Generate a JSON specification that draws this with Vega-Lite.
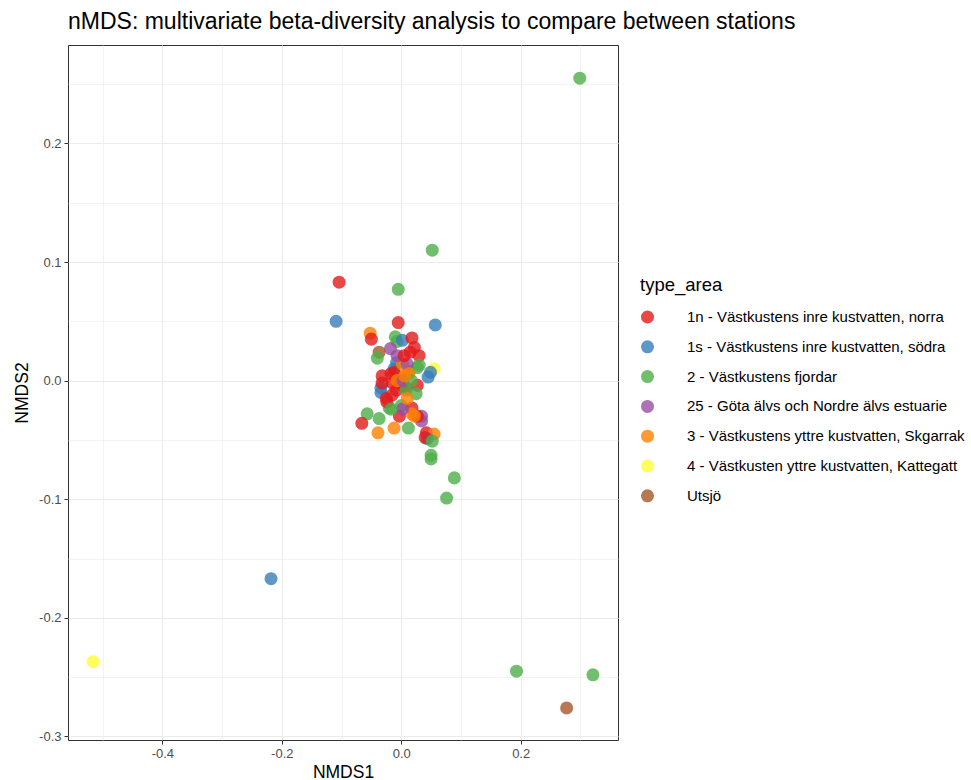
{
  "$schema": "https://vega.github.io/schema/vega-lite/v6.json",
  "autosize": {"type": "none"},
  "width": 550,
  "height": 695,
  "padding": {"left": 68, "top": 45, "right": 353, "bottom": 40},
  "background": "white",
  "title": {"text": "nMDS: multivariate beta-diversity analysis to compare between stations", "anchor": "start", "frame": "group", "font": "Liberation Sans", "fontSize": 23, "fontWeight": "normal", "color": "black", "offset": 11},
  "config": {
    "view": {"stroke": "#333333", "strokeWidth": 1},
    "font": "Liberation Sans"
  },
  "datasets": {
    "pts": [
      {"x": 0.299, "y": 0.255, "type_area": "2 - Västkustens fjordar"},
      {"x": 0.052, "y": 0.110, "type_area": "2 - Västkustens fjordar"},
      {"x": -0.104, "y": 0.083, "type_area": "1n - Västkustens inre kustvatten, norra"},
      {"x": -0.109, "y": 0.050, "type_area": "1s - Västkustens inre kustvatten, södra"},
      {"x": -0.005, "y": 0.077, "type_area": "2 - Västkustens fjordar"},
      {"x": 0.057, "y": 0.047, "type_area": "1s - Västkustens inre kustvatten, södra"},
      {"x": -0.218, "y": -0.167, "type_area": "1s - Västkustens inre kustvatten, södra"},
      {"x": -0.516, "y": -0.237, "type_area": "4 - Västkusten yttre kustvatten, Kattegatt"},
      {"x": 0.193, "y": -0.245, "type_area": "2 - Västkustens fjordar"},
      {"x": 0.321, "y": -0.248, "type_area": "2 - Västkustens fjordar"},
      {"x": 0.277, "y": -0.276, "type_area": "Utsjö"},
      {"x": -0.052, "y": 0.040, "type_area": "3 - Västkustens yttre kustvatten, Skgarrak"},
      {"x": -0.050, "y": 0.035, "type_area": "1n - Västkustens inre kustvatten, norra"},
      {"x": -0.005, "y": 0.049, "type_area": "1n - Västkustens inre kustvatten, norra"},
      {"x": -0.010, "y": 0.037, "type_area": "2 - Västkustens fjordar"},
      {"x": -0.007, "y": 0.033, "type_area": "2 - Västkustens fjordar"},
      {"x": 0.002, "y": 0.034, "type_area": "1s - Västkustens inre kustvatten, södra"},
      {"x": 0.018, "y": 0.036, "type_area": "1n - Västkustens inre kustvatten, norra"},
      {"x": 0.022, "y": 0.028, "type_area": "1n - Västkustens inre kustvatten, norra"},
      {"x": 0.030, "y": 0.021, "type_area": "1n - Västkustens inre kustvatten, norra"},
      {"x": 0.015, "y": 0.024, "type_area": "1n - Västkustens inre kustvatten, norra"},
      {"x": -0.018, "y": 0.027, "type_area": "25 - Göta älvs och Nordre älvs estuarie"},
      {"x": -0.037, "y": 0.024, "type_area": "Utsjö"},
      {"x": -0.040, "y": 0.019, "type_area": "2 - Västkustens fjordar"},
      {"x": 0.055, "y": 0.010, "type_area": "4 - Västkusten yttre kustvatten, Kattegatt"},
      {"x": 0.045, "y": 0.003, "type_area": "1s - Västkustens inre kustvatten, södra"},
      {"x": 0.049, "y": 0.007, "type_area": "1s - Västkustens inre kustvatten, södra"},
      {"x": 0.027, "y": 0.011, "type_area": "2 - Västkustens fjordar"},
      {"x": 0.013, "y": 0.008, "type_area": "2 - Västkustens fjordar"},
      {"x": -0.008, "y": 0.015, "type_area": "1s - Västkustens inre kustvatten, södra"},
      {"x": -0.012, "y": 0.010, "type_area": "1s - Västkustens inre kustvatten, södra"},
      {"x": -0.032, "y": 0.004, "type_area": "1n - Västkustens inre kustvatten, norra"},
      {"x": -0.017, "y": 0.006, "type_area": "1n - Västkustens inre kustvatten, norra"},
      {"x": 0.000, "y": 0.003, "type_area": "3 - Västkustens yttre kustvatten, Skgarrak"},
      {"x": -0.003, "y": -0.003, "type_area": "3 - Västkustens yttre kustvatten, Skgarrak"},
      {"x": -0.012, "y": 0.007, "type_area": "1n - Västkustens inre kustvatten, norra"},
      {"x": -0.034, "y": -0.006, "type_area": "1s - Västkustens inre kustvatten, södra"},
      {"x": -0.034, "y": -0.010, "type_area": "1s - Västkustens inre kustvatten, södra"},
      {"x": -0.025, "y": -0.015, "type_area": "1n - Västkustens inre kustvatten, norra"},
      {"x": -0.008, "y": -0.008, "type_area": "1n - Västkustens inre kustvatten, norra"},
      {"x": 0.008, "y": -0.006, "type_area": "1n - Västkustens inre kustvatten, norra"},
      {"x": 0.027, "y": -0.004, "type_area": "1n - Västkustens inre kustvatten, norra"},
      {"x": 0.025, "y": -0.011, "type_area": "2 - Västkustens fjordar"},
      {"x": -0.020, "y": -0.023, "type_area": "2 - Västkustens fjordar"},
      {"x": 0.000, "y": -0.021, "type_area": "2 - Västkustens fjordar"},
      {"x": 0.018, "y": -0.023, "type_area": "1n - Västkustens inre kustvatten, norra"},
      {"x": -0.057, "y": -0.028, "type_area": "2 - Västkustens fjordar"},
      {"x": -0.037, "y": -0.032, "type_area": "2 - Västkustens fjordar"},
      {"x": -0.066, "y": -0.036, "type_area": "1n - Västkustens inre kustvatten, norra"},
      {"x": -0.039, "y": -0.044, "type_area": "3 - Västkustens yttre kustvatten, Skgarrak"},
      {"x": -0.012, "y": -0.040, "type_area": "3 - Västkustens yttre kustvatten, Skgarrak"},
      {"x": 0.012, "y": -0.040, "type_area": "2 - Västkustens fjordar"},
      {"x": -0.003, "y": -0.030, "type_area": "1n - Västkustens inre kustvatten, norra"},
      {"x": 0.034, "y": -0.030, "type_area": "25 - Göta älvs och Nordre älvs estuarie"},
      {"x": 0.034, "y": -0.034, "type_area": "25 - Göta älvs och Nordre älvs estuarie"},
      {"x": 0.027, "y": -0.030, "type_area": "1n - Västkustens inre kustvatten, norra"},
      {"x": 0.022, "y": -0.030, "type_area": "3 - Västkustens yttre kustvatten, Skgarrak"},
      {"x": 0.042, "y": -0.044, "type_area": "1n - Västkustens inre kustvatten, norra"},
      {"x": 0.055, "y": -0.045, "type_area": "3 - Västkustens yttre kustvatten, Skgarrak"},
      {"x": 0.044, "y": -0.049, "type_area": "1s - Västkustens inre kustvatten, södra"},
      {"x": 0.040, "y": -0.048, "type_area": "1n - Västkustens inre kustvatten, norra"},
      {"x": 0.052, "y": -0.051, "type_area": "2 - Västkustens fjordar"},
      {"x": 0.050, "y": -0.063, "type_area": "2 - Västkustens fjordar"},
      {"x": 0.050, "y": -0.066, "type_area": "2 - Västkustens fjordar"},
      {"x": 0.089, "y": -0.082, "type_area": "2 - Västkustens fjordar"},
      {"x": 0.076, "y": -0.099, "type_area": "2 - Västkustens fjordar"},
      {"x": 0.002, "y": 0.014, "type_area": "3 - Västkustens yttre kustvatten, Skgarrak"},
      {"x": 0.030, "y": 0.013, "type_area": "2 - Västkustens fjordar"},
      {"x": 0.010, "y": 0.014, "type_area": "25 - Göta älvs och Nordre älvs estuarie"},
      {"x": 0.013, "y": 0.006, "type_area": "3 - Västkustens yttre kustvatten, Skgarrak"},
      {"x": 0.002, "y": -0.004, "type_area": "1n - Västkustens inre kustvatten, norra"},
      {"x": 0.008, "y": -0.008, "type_area": "2 - Västkustens fjordar"},
      {"x": 0.018, "y": -0.028, "type_area": "3 - Västkustens yttre kustvatten, Skgarrak"},
      {"x": 0.002, "y": -0.024, "type_area": "25 - Göta älvs och Nordre älvs estuarie"},
      {"x": -0.032, "y": -0.002, "type_area": "1n - Västkustens inre kustvatten, norra"},
      {"x": -0.015, "y": -0.002, "type_area": "1n - Västkustens inre kustvatten, norra"},
      {"x": -0.007, "y": 0.000, "type_area": "3 - Västkustens yttre kustvatten, Skgarrak"},
      {"x": -0.024, "y": -0.018, "type_area": "1n - Västkustens inre kustvatten, norra"},
      {"x": -0.017, "y": -0.024, "type_area": "2 - Västkustens fjordar"},
      {"x": -0.007, "y": 0.021, "type_area": "25 - Göta älvs och Nordre älvs estuarie"},
      {"x": 0.005, "y": 0.021, "type_area": "1n - Västkustens inre kustvatten, norra"},
      {"x": 0.003, "y": 0.000, "type_area": "25 - Göta älvs och Nordre älvs estuarie"},
      {"x": 0.017, "y": 0.000, "type_area": "2 - Västkustens fjordar"},
      {"x": 0.010, "y": -0.015, "type_area": "3 - Västkustens yttre kustvatten, Skgarrak"},
      {"x": -0.015, "y": -0.012, "type_area": "1n - Västkustens inre kustvatten, norra"},
      {"x": 0.006, "y": 0.004, "type_area": "3 - Västkustens yttre kustvatten, Skgarrak"}
    ]
  },
  "layer": [
    {
      "data": {"name": "pts"},
      "mark": {"type": "point", "filled": true, "size": 170, "opacity": 0.8, "strokeWidth": 0},
      "encoding": {
        "x": {"field": "x", "type": "quantitative", "scale": {"domain": [-0.558, 0.363], "nice": false, "zero": false},
          "axis": {"title": "NMDS1", "titleFont": "Liberation Sans", "titleFontSize": 17.5, "titleFontWeight": "normal", "titleColor": "black", "titlePadding": 3,
            "values": [-0.5, -0.4, -0.3, -0.2, -0.1, 0, 0.1, 0.2, 0.3],
            "labelExpr": "abs(round(datum.value*10)) % 2 == 1 ? '' : replace(format(datum.value, '.1f'), '\u2212', '-')",
            "labelFont": "Liberation Sans", "labelFontSize": 13, "labelColor": "#4D4D4D", "labelPadding": 3,
            "domain": false, "ticks": true, "tickSize": 4, "tickColor": {"condition": {"test": "abs(round(datum.value*10)) % 2 == 1", "value": "transparent"}, "value": "#333333"},
            "grid": true, "gridColor": "#EBEBEB", "gridWidth": {"condition": {"test": "abs(round(datum.value*10)) % 2 == 1", "value": 0.6}, "value": 1.1}}},
        "y": {"field": "y", "type": "quantitative", "scale": {"domain": [-0.303, 0.283], "nice": false, "zero": false},
          "axis": {"title": "NMDS2", "titleFont": "Liberation Sans", "titleFontSize": 17.5, "titleFontWeight": "normal", "titleColor": "black", "titlePadding": 7,
            "values": [-0.3, -0.25, -0.2, -0.15, -0.1, -0.05, 0, 0.05, 0.1, 0.15, 0.2, 0.25],
            "labelExpr": "abs(round(datum.value*20)) % 2 == 1 ? '' : replace(format(datum.value, '.1f'), '\u2212', '-')",
            "labelFont": "Liberation Sans", "labelFontSize": 13, "labelColor": "#4D4D4D", "labelPadding": 3,
            "domain": false, "ticks": true, "tickSize": 4, "tickColor": {"condition": {"test": "abs(round(datum.value*20)) % 2 == 1", "value": "transparent"}, "value": "#333333"},
            "grid": true, "gridColor": "#EBEBEB", "gridWidth": {"condition": {"test": "abs(round(datum.value*20)) % 2 == 1", "value": 0.6}, "value": 1.1}}},
        "color": {"field": "type_area", "type": "nominal",
          "scale": {"domain": ["1n - Västkustens inre kustvatten, norra", "1s - Västkustens inre kustvatten, södra", "2 - Västkustens fjordar", "25 - Göta älvs och Nordre älvs estuarie", "3 - Västkustens yttre kustvatten, Skgarrak", "4 - Västkusten yttre kustvatten, Kattegatt", "Utsjö"],
            "range": ["#E41A1C", "#377EB8", "#4DAF4A", "#984EA3", "#FF7F00", "#FFFF33", "#A65628"]},
          "legend": {"title": "type_area", "orient": "none", "legendX": 572, "legendY": 231,
            "titleFont": "Liberation Sans", "titleFontSize": 18.5, "titleFontWeight": "normal", "titleColor": "black", "titlePadding": 15,
            "labelFont": "Liberation Sans", "labelFontSize": 15, "labelColor": "black", "labelOffset": 32, "labelLimit": 400,
            "symbolType": "circle", "symbolSize": 170, "symbolOpacity": 0.8, "symbolStrokeWidth": 0, "rowPadding": 13.8, "offset": 0, "padding": 0}}
      }
    },
    {
      "mark": {"type": "rule", "color": "black", "strokeWidth": 1.6},
      "encoding": {"x": {"datum": 0}}
    },
    {
      "mark": {"type": "rule", "color": "black", "strokeWidth": 1.6},
      "encoding": {"y": {"datum": 0}}
    }
  ]
}
